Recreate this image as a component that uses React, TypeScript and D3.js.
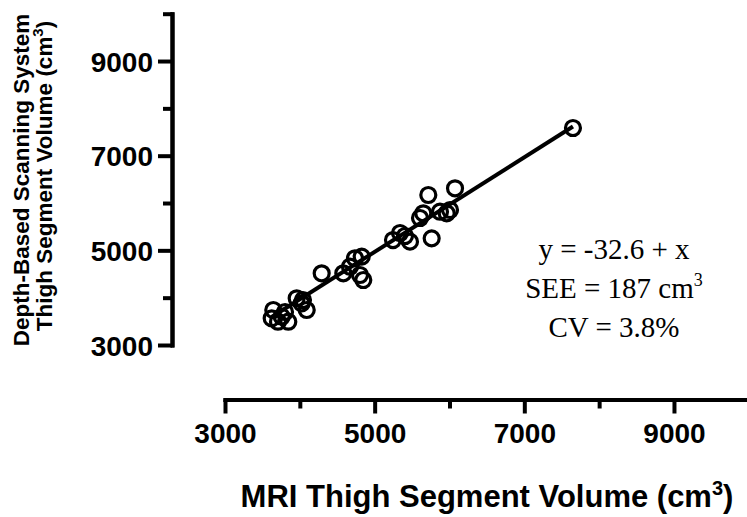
import React, { useEffect, useRef } from "react";
import * as d3 from "d3";

// MRI (x) vs depth-based scanning (y) thigh segment volume, cm3
const mriVolume = [
  3624, 3645, 3708, 3758, 3846, 3802, 3958, 4025, 4092, 4042, 4292, 4581,
  4670, 4737, 4827, 4804, 4848, 5245, 5339, 5472, 5405, 5606, 5650, 5717,
  5873, 5963, 6007, 5762, 6074, 7650,
];
const scanVolume = [
  3564, 3739, 3492, 3598, 3492, 3697, 3987, 3881, 3739, 3951, 4515, 4515,
  4654, 4832, 4866, 4479, 4373, 5218, 5366, 5183, 5303, 5683, 5783, 6169,
  5816, 5783, 5852, 5254, 6311, 7585,
];
const fitIntercept = -32.6;
const fitSlope = 1;

const majorTicks = [3000, 5000, 7000, 9000];
const minorTicks = [4000, 6000, 8000, 10000];
const axisDomain = [3000, 10000];

const annotationLines = ["y = -32.6 + x", "SEE = 187 cm", "CV = 3.8%"];

const sansFont = "'Liberation Sans', Arial, Helvetica, sans-serif";
const serifFont = "'Liberation Serif', 'Times New Roman', serif";

export default function App() {
  const ref = useRef<SVGSVGElement>(null);

  useEffect(() => {
    const svg = d3.select(ref.current);
    svg.selectAll("*").remove();

    const x = d3.scaleLinear().domain(axisDomain).range([225, 748.8]);
    const y = d3.scaleLinear().domain(axisDomain).range([345, 13.7]);
    const yAxisX = 172;
    const xAxisY = 399.5;
    const fmt = d3.format("d");

    const styleAxis = (g: any) => {
      g.attr("font-family", sansFont)
        .attr("font-size", 28)
        .attr("font-weight", "bold");
      g.selectAll(".domain")
        .attr("stroke", "#000")
        .attr("stroke-width", 4)
        .attr("stroke-linecap", "square");
      g.selectAll(".tick line").attr("stroke", "#000").attr("stroke-width", 4);
      g.selectAll(".tick text").attr("fill", "#000");
    };

    // y axis
    svg
      .append("g")
      .attr("transform", `translate(${yAxisX},0)`)
      .call(d3.axisLeft(y).tickValues(minorTicks).tickSize(9).tickSizeOuter(0).tickFormat(() => ""))
      .call(styleAxis);
    svg
      .append("g")
      .attr("transform", `translate(${yAxisX},0)`)
      .call(d3.axisLeft(y).tickValues(majorTicks).tickSize(14).tickSizeOuter(0).tickPadding(5).tickFormat(fmt))
      .call(styleAxis)
      .call((g) => g.selectAll(".tick text").attr("dy", "0.36em"));

    // x axis
    svg
      .append("g")
      .attr("transform", `translate(0,${xAxisY})`)
      .call(d3.axisBottom(x).tickValues(minorTicks).tickSize(9).tickSizeOuter(0).tickFormat(() => ""))
      .call(styleAxis);
    svg
      .append("g")
      .attr("transform", `translate(0,${xAxisY})`)
      .call(d3.axisBottom(x).tickValues(majorTicks).tickSize(14).tickSizeOuter(0).tickPadding(10).tickFormat(fmt))
      .call(styleAxis);

    // regression line
    const xMin = d3.min(mriVolume) as number;
    const xMax = d3.max(mriVolume) as number;
    const line = d3
      .line<number>()
      .x((d) => x(d))
      .y((d) => y(fitIntercept + fitSlope * d));
    svg
      .append("path")
      .attr("fill", "none")
      .attr("stroke", "#000")
      .attr("stroke-width", 4)
      .attr("d", line([xMin, xMax]));

    // points
    svg
      .append("g")
      .selectAll("circle")
      .data(d3.range(mriVolume.length))
      .join("circle")
      .attr("cx", (i) => x(mriVolume[i]))
      .attr("cy", (i) => y(scanVolume[i]))
      .attr("r", 7.5)
      .attr("fill", "none")
      .attr("stroke", "#000")
      .attr("stroke-width", 3.2);

    // y axis title
    const yTitle = svg
      .append("g")
      .attr("font-family", sansFont)
      .attr("font-weight", "bold")
      .attr("font-size", 22.5)
      .attr("text-anchor", "middle");
    yTitle
      .append("text")
      .attr("transform", "translate(29,180) rotate(-90)")
      .text("Depth-Based Scanning System");
    const yt2 = yTitle.append("text").attr("transform", "translate(52,176) rotate(-90)");
    yt2.append("tspan").text("Thigh Segment Volume (cm");
    yt2.append("tspan").attr("font-size", 15).attr("dy", -9).text("3");
    yt2.append("tspan").attr("dy", 9).text(")");

    // x axis title
    const xt = svg
      .append("text")
      .attr("x", 487)
      .attr("y", 507)
      .attr("font-family", sansFont)
      .attr("font-weight", "bold")
      .attr("font-size", 31)
      .attr("text-anchor", "middle");
    xt.append("tspan").text("MRI Thigh Segment Volume (cm");
    xt.append("tspan").attr("font-size", 20).attr("dy", -12).text("3");
    xt.append("tspan").attr("dy", 12).text(")");

    // annotation
    const ann = svg
      .append("g")
      .attr("font-family", serifFont)
      .attr("font-size", 29)
      .attr("text-anchor", "middle");
    annotationLines.forEach((t, i) => {
      const tx = ann
        .append("text")
        .attr("x", 614)
        .attr("y", 259 + i * 39);
      tx.append("tspan").text(t);
      if (i === 1) {
        tx.append("tspan").attr("font-size", 18).attr("dy", -12).text("3");
      }
    });
  }, []);

  return (
    <svg
      ref={ref}
      width={747}
      height={517}
      style={{ position: "absolute", left: 0, top: 0, background: "#fff" }}
    />
  );
}
